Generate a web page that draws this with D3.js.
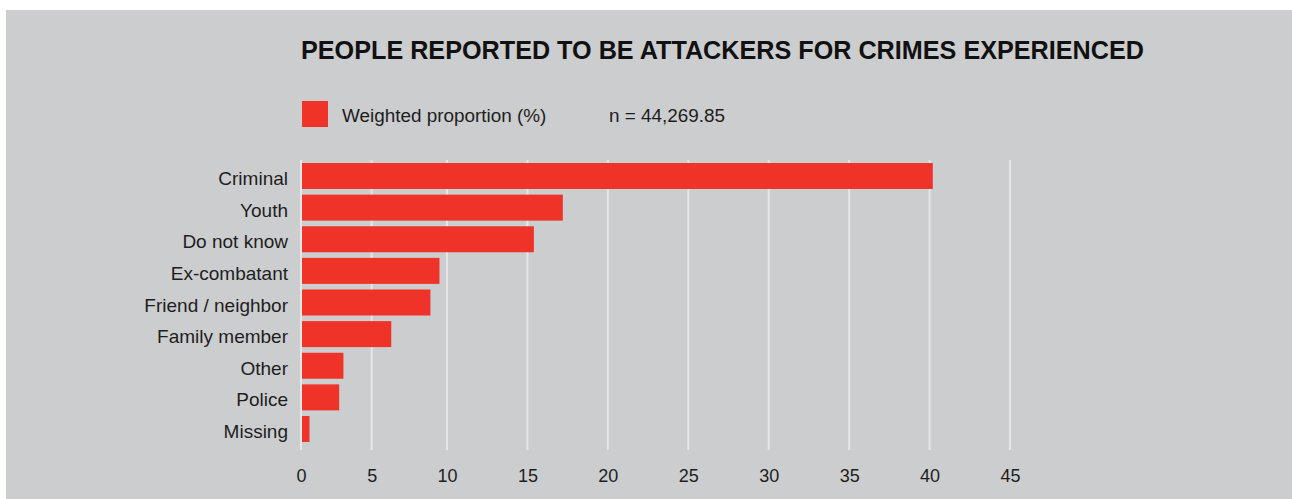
<!DOCTYPE html>
<html>
<head>
<meta charset="utf-8">
<script src="https://cdn.jsdelivr.net/npm/d3@7/dist/d3.min.js"></script>
<style>
  html, body { margin: 0; padding: 0; background: #ffffff; }
  svg { display: block; }
  text { font-family: "Liberation Sans", Arial, Helvetica, sans-serif; }
</style>
</head>
<body>
<svg id="chart" width="1292" height="499"></svg>
<script>
// Attacker categories, top to bottom
const categories = ["Criminal", "Youth", "Do not know", "Ex-combatant", "Friend / neighbor",
                    "Family member", "Other", "Police", "Missing"];
// Weighted proportion (%) per category
const values = [40.2, 17.2, 15.4, 9.5, 8.9, 6.3, 3.0, 2.7, 0.6];
// Axis tick labels
const ticks = [0, 5, 10, 15, 20, 25, 30, 35, 40, 45];

const titleText = "PEOPLE REPORTED TO BE ATTACKERS FOR CRIMES EXPERIENCED";
const legendLabel = "Weighted proportion (%)";
const sampleLabel = "n = 44,269.85";

const W = 1292, H = 499;
const svg = d3.select("#chart");

// panel background
svg.append("rect")
  .attr("x", 6).attr("y", 10)
  .attr("width", W - 6).attr("height", H - 10)
  .attr("fill", "#cccdcf");

const plot = { left: 301, right: 1010, top: 160, bottom: 450 };

// value scale (piecewise to follow the printed grid spacing)
const x = d3.scaleLinear()
  .domain([0, 5, 10, 45])
  .range([plot.left, plot.left + 70.7, plot.left + 146, plot.right]);

const y = d3.scaleBand()
  .domain(categories)
  .range([plot.top, 445])
  .paddingInner(0.178)
  .paddingOuter(0.095);

// vertical grid lines
svg.append("g")
  .selectAll("line")
  .data(ticks)
  .join("line")
  .attr("x1", d => x(d)).attr("x2", d => x(d))
  .attr("y1", plot.top).attr("y2", plot.bottom)
  .attr("stroke", "#e6e6e7")
  .attr("stroke-width", 2);

// bars
svg.append("g")
  .selectAll("rect")
  .data(values)
  .join("rect")
  .attr("x", x(0) + 1)
  .attr("y", (d, i) => y(categories[i]))
  .attr("width", d => x(d) - x(0) - 1)
  .attr("height", y.bandwidth())
  .attr("fill", "#ef3328");

// category labels
const yAxis = d3.axisLeft(y).tickSize(0).tickPadding(13);
const gy = svg.append("g").attr("transform", `translate(${plot.left},0)`).call(yAxis);
gy.select(".domain").remove();
gy.selectAll("text")
  .attr("font-size", 19)
  .attr("fill", "#1e1e1e")
  .attr("font-family", "Liberation Sans, Arial, sans-serif")
  .attr("dy", "0.48em");

// value axis labels
const xAxis = d3.axisBottom(x).tickValues(ticks).tickSize(0).tickPadding(0)
  .tickFormat(d3.format("d"));
const gx = svg.append("g").attr("transform", `translate(0,${plot.bottom})`).call(xAxis);
gx.select(".domain").remove();
gx.selectAll("text")
  .attr("font-size", 18)
  .attr("fill", "#1e1e1e")
  .attr("font-family", "Liberation Sans, Arial, sans-serif")
  .attr("y", 32)
  .attr("dy", 0);

// title
svg.append("text")
  .attr("x", 301).attr("y", 59)
  .attr("font-size", 25.2)
  .attr("font-weight", "bold")
  .attr("fill", "#111")
  .text(titleText);

// legend
svg.append("rect")
  .attr("x", 302).attr("y", 101)
  .attr("width", 26).attr("height", 26)
  .attr("fill", "#ef3328");
svg.append("text")
  .attr("x", 342).attr("y", 122)
  .attr("font-size", 18.9)
  .attr("fill", "#1e1e1e")
  .text(legendLabel);
svg.append("text")
  .attr("x", 609).attr("y", 122)
  .attr("font-size", 18.9)
  .attr("fill", "#1e1e1e")
  .text(sampleLabel);
</script>
</body>
</html>
